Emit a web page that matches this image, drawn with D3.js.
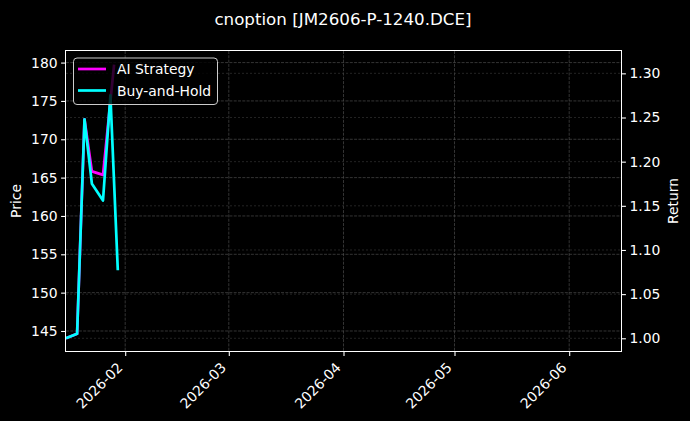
<!DOCTYPE html>
<html><head><meta charset="utf-8">
<script src="https://cdn.jsdelivr.net/npm/d3@7/dist/d3.min.js"></script>
<style>
html,body{margin:0;padding:0;background:#000;}
svg{display:block;font-family:"DejaVu Sans",sans-serif;}
</style></head>
<body>
<svg id="chart" width="690" height="421"></svg>
<script>
const titleText = "cnoption [JM2606-P-1240.DCE]";
const seriesNames = ["AI Strategy", "Buy-and-Hold"];
const aiDates = ["2026-01-16","2026-01-19","2026-01-21","2026-01-23","2026-01-26","2026-01-29"];
const aiValues = [1.000, 1.005, 1.248, 1.189, 1.185, 1.310];
const bhDates = ["2026-01-16","2026-01-19","2026-01-21","2026-01-23","2026-01-26","2026-01-28","2026-01-30"];
const bhValues = [1.000, 1.005, 1.248, 1.175, 1.156, 1.275, 1.077];
const priceTicks = [145,150,155,160,165,170,175,180];
const returnTicks = [1.00,1.05,1.10,1.15,1.20,1.25,1.30];
const xTickDates = ["2026-02-01","2026-03-01","2026-04-01","2026-05-01","2026-06-01"];
const xDomain = ["2026-01-16","2026-06-15"];
const priceDomain = [142.39, 181.51];
const returnDomain = [0.9856, 1.3253];

const parse = d3.utcParse("%Y-%m-%d");
const L = 66, R = 621, T = 51, B = 351;
const svg = d3.select("#chart");
svg.append("rect").attr("width",690).attr("height",421).attr("fill","#000");

const x = d3.scaleUtc().domain(xDomain.map(parse)).range([L, R]);
const yP = d3.scaleLinear().domain(priceDomain).range([B, T]);
const yR = d3.scaleLinear().domain(returnDomain).range([B, T]);

// grids
const grid = svg.append("g");
grid.selectAll(".gx").data(xTickDates.map(parse)).join("line")
  .attr("x1", d => x(d)).attr("x2", d => x(d)).attr("y1", T).attr("y2", B)
  .attr("stroke", "#4a4a4a").attr("stroke-width", 0.7).attr("stroke-dasharray", "3,1.3");
grid.selectAll(".gp").data(priceTicks).join("line")
  .attr("x1", L).attr("x2", R).attr("y1", d => yP(d)).attr("y2", d => yP(d))
  .attr("stroke", "#4a4a4a").attr("stroke-width", 0.7).attr("stroke-dasharray", "3,1.3");
grid.selectAll(".gr").data(returnTicks).join("line")
  .attr("x1", L).attr("x2", R).attr("y1", d => yR(d)).attr("y2", d => yR(d))
  .attr("stroke", "#3a3a3a").attr("stroke-width", 0.6).attr("stroke-dasharray", "2,2");

// lines
svg.append("clipPath").attr("id","clip").append("rect")
  .attr("x",L).attr("y",T).attr("width",R-L).attr("height",B-T);
const lineG = svg.append("g").attr("clip-path","url(#clip)");
const aiData = aiDates.map((d,i)=>({d:parse(d), v:aiValues[i]}));
const bhData = bhDates.map((d,i)=>({d:parse(d), v:bhValues[i]}));
const line = d3.line().x(p => x(p.d)).y(p => yR(p.v));
lineG.append("path").datum(aiData).attr("d", line)
  .attr("fill","none").attr("stroke","#ff00ff").attr("stroke-width",2.7).attr("stroke-linejoin","round");
lineG.append("path").datum(bhData).attr("d", line)
  .attr("fill","none").attr("stroke","#00ffff").attr("stroke-width",2.7).attr("stroke-linejoin","round");

// axes
function styleAxis(g){
  g.select(".domain").remove();
  g.selectAll(".tick line").attr("stroke","#fff").attr("stroke-width",1.1);
  g.selectAll(".tick text").attr("fill","#fff").style("font-size","13.9px").style("font-family","DejaVu Sans");
}
const axL = svg.append("g").attr("transform",`translate(${L},0)`)
  .call(d3.axisLeft(yP).tickValues(priceTicks).tickSize(4.9).tickPadding(3.5).tickFormat(d3.format("d")));
styleAxis(axL);
const axR = svg.append("g").attr("transform",`translate(${R},0)`)
  .call(d3.axisRight(yR).tickValues(returnTicks).tickSize(4.9).tickPadding(3.5).tickFormat(d3.format(".2f")));
styleAxis(axR);
const axB = svg.append("g").attr("transform",`translate(0,${B})`)
  .call(d3.axisBottom(x).tickValues(xTickDates.map(parse)).tickSize(4.9).tickFormat(d3.utcFormat("%Y-%m")));
styleAxis(axB);
axB.selectAll(".tick text")
  .attr("text-anchor","end").attr("dy",null).attr("y",null)
  .attr("transform","translate(-2.3,17.4) rotate(-45)");

// spines
svg.append("rect").attr("x",L-0.5).attr("y",T-0.5).attr("width",R-L+1).attr("height",B-T+1)
  .attr("fill","none").attr("stroke","#fff").attr("stroke-width",1.2).attr("shape-rendering","crispEdges");

// labels
svg.append("text").attr("x",343).attr("y",25).attr("text-anchor","middle")
  .attr("fill","#fff").style("font-size","16.7px").text(titleText);
svg.append("text").attr("transform",`translate(21,${(T+B)/2}) rotate(-90)`).attr("text-anchor","middle")
  .attr("fill","#fff").style("font-size","13.9px").text("Price");
svg.append("text").attr("transform",`translate(678,${(T+B)/2}) rotate(-90)`).attr("text-anchor","middle")
  .attr("fill","#fff").style("font-size","13.9px").text("Return");

// legend
const lg = svg.append("g");
lg.append("rect").attr("x",73.5).attr("y",58).attr("width",144).attr("height",46.5).attr("rx",3.5)
  .attr("fill","rgba(0,0,0,0.8)").attr("stroke","#cccccc").attr("stroke-width",1);
const colors = ["#ff00ff","#00ffff"];
seriesNames.forEach((n,i)=>{
  const yy = 69 + i*21.5;
  lg.append("line").attr("x1",78).attr("x2",106).attr("y1",yy).attr("y2",yy)
    .attr("stroke",colors[i]).attr("stroke-width",2.7);
  lg.append("text").attr("x",117).attr("y",yy+5).attr("fill","#fff").style("font-size","13.9px").text(n);
});
</script>
</body></html>
